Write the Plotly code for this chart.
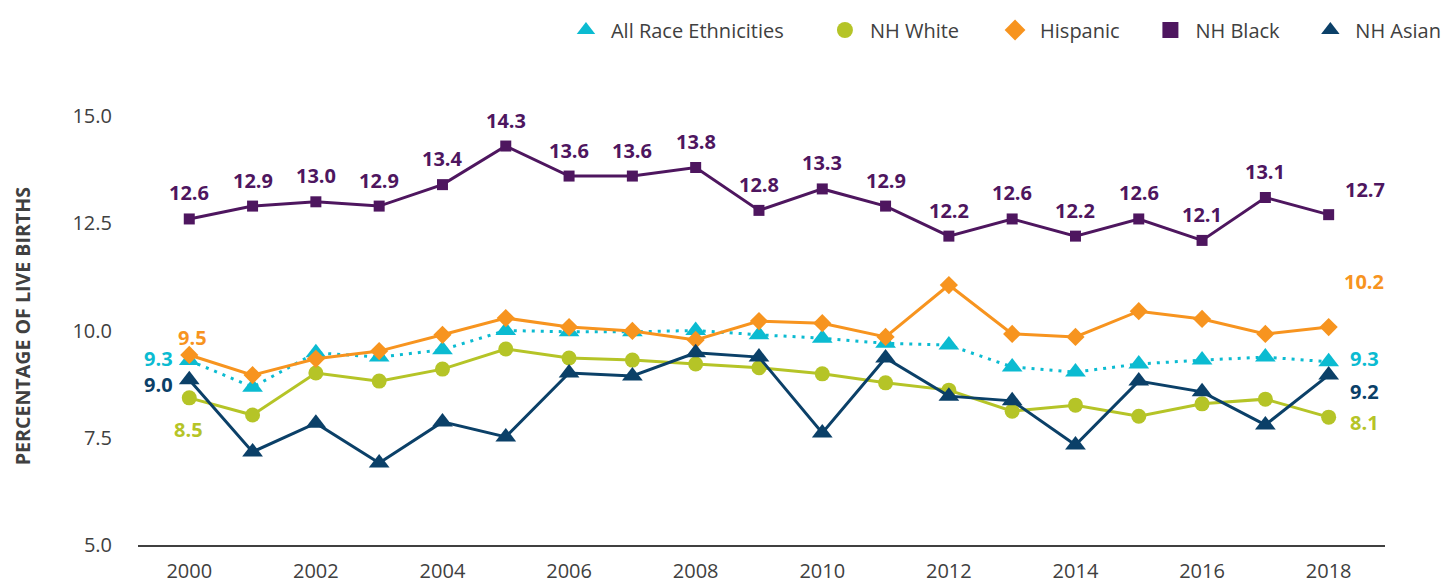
import plotly.graph_objects as go

years = list(range(2000, 2019))

all_race = [9.3, 8.68, 9.48, 9.38, 9.55, 10.0, 9.97, 9.97, 10.0, 9.9, 9.82, 9.7, 9.66, 9.15, 9.03, 9.22, 9.31, 9.38, 9.27]
nh_white = [8.43, 8.03, 9.01, 8.82, 9.1, 9.57, 9.36, 9.31, 9.22, 9.13, 8.99, 8.78, 8.61, 8.12, 8.26, 8.0, 8.29, 8.4, 7.98]
hispanic = [9.43, 8.96, 9.34, 9.52, 9.9, 10.29, 10.08, 9.99, 9.78, 10.22, 10.17, 9.85, 11.06, 9.92, 9.85, 10.45, 10.27, 9.92, 10.08]
nh_black = [12.6, 12.9, 13.0, 12.9, 13.4, 14.3, 13.6, 13.6, 13.8, 12.8, 13.3, 12.9, 12.2, 12.6, 12.2, 12.6, 12.1, 13.1, 12.7]
nh_asian = [8.85, 7.17, 7.84, 6.91, 7.87, 7.52, 9.01, 8.94, 9.48, 9.38, 7.61, 9.36, 8.47, 8.36, 7.33, 8.82, 8.57, 7.8, 8.96]

series_names = ["All Race Ethnicities", "NH White", "Hispanic", "NH Black", "NH Asian"]

# end-point labels (first year, last year)
label_all = ["9.3", "9.3"]
label_white = ["8.5", "8.1"]
label_hisp = ["9.5", "10.2"]
label_asian = ["9.0", "9.2"]

C_ALL = "#0BBBD1"
C_WHITE = "#B5C427"
C_HISP = "#F7941F"
C_BLACK = "#4E165F"
C_ASIAN = "#0B4068"
TXT = "#404040"
FONT = "Open Sans"

styles = [
    (all_race, C_ALL, "triangle-up", 18, "3px,6px"),
    (nh_white, C_WHITE, "circle", 15, "solid"),
    (hispanic, C_HISP, "diamond", 14, "solid"),
    (nh_black, C_BLACK, "square", 11, "solid"),
    (nh_asian, C_ASIAN, "triangle-up", 18, "solid"),
]

fig = go.Figure()
for name, (vals, col, sym, size, dash) in zip(series_names, styles):
    fig.add_trace(go.Scatter(x=years, y=vals, name=name, mode="lines+markers", showlegend=False,
                             line=dict(color=col, width=3, dash=dash),
                             marker=dict(symbol=sym, size=size, color=col), cliponaxis=False))

# legend entries (markers only, like the reference)
pads = [6, 5, 4, 4, 0]
for name, (vals, col, sym, size, dash), p in zip(series_names, styles, pads):
    fig.add_trace(go.Scatter(x=[None], y=[None], name=name + "\u00a0" * p, mode="markers",
                             marker=dict(symbol=sym, size=16, color=col), showlegend=True))

ann = []
lab_font = dict(family=FONT, size=20, color=C_BLACK)
for i, (yr, v) in enumerate(zip(years, nh_black)):
    if i == len(years) - 1:
        ann.append(dict(x=yr, y=v, text=f"<b>{v:.1f}</b>", showarrow=False, xshift=36, yshift=25,
                        font=lab_font))
    else:
        ann.append(dict(x=yr, y=v, text=f"<b>{v:.1f}</b>", showarrow=False, yshift=26, font=lab_font))

def lab(x, y, t, c, xs, ys):
    ann.append(dict(x=x, y=y, text=f"<b>{t}</b>", showarrow=False, xshift=xs, yshift=ys,
                    font=dict(family=FONT, size=20, color=c)))

lab(years[0], hispanic[0], label_hisp[0], C_HISP, 3, 17)
lab(years[0], all_race[0], label_all[0], C_ALL, -31, 2)
lab(years[0], nh_asian[0], label_asian[0], C_ASIAN, -31, -5)
lab(years[0], nh_white[0], label_white[0], C_WHITE, -1, -32)
lab(years[-1], hispanic[-1], label_hisp[-1], C_HISP, 35, 46)
lab(years[-1], all_race[-1], label_all[-1], C_ALL, 36, 3)
lab(years[-1], nh_asian[-1], label_asian[-1], C_ASIAN, 36, -16)
lab(years[-1], nh_white[-1], label_white[-1], C_WHITE, 36, -5)

# y axis title
ann.append(dict(xref="paper", yref="paper", x=-0.093, y=0.51, xanchor="center", yanchor="middle",
                text="<b>PERCENTAGE OF LIVE BIRTHS</b>", textangle=-90, showarrow=False,
                font=dict(family=FONT, size=19.6, color=TXT)))

fig.update_layout(
    width=1454, height=584,
    margin=dict(l=130, r=77, t=108, b=47, autoexpand=False),
    paper_bgcolor="white", plot_bgcolor="white",
    font=dict(family=FONT, color=TXT),
    showlegend=True,
    legend=dict(orientation="h", xref="container", yref="container",
                x=0.3803, xanchor="left", y=0.9623, yanchor="middle",
                font=dict(family=FONT, size=20, color=TXT), itemsizing="trace", itemwidth=40,
                traceorder="normal", bgcolor="rgba(0,0,0,0)"),
    annotations=ann,
    xaxis=dict(range=[1999.19, 2018.89], tickmode="array", tickvals=list(range(2000, 2019, 2)),
               showgrid=False, zeroline=False, showline=True, linecolor=TXT, linewidth=2,
               ticks="", ticklabelstandoff=7, tickfont=dict(family=FONT, size=20, color=TXT)),
    yaxis=dict(range=[5, 15], tickmode="array", tickvals=[5, 7.5, 10, 12.5, 15], tickformat=".1f",
               showgrid=False, zeroline=False, showline=False, ticks="",
               ticklabelstandoff=25,
               tickfont=dict(family=FONT, size=20, color=TXT)),
)

fig.write_html("out.html")
